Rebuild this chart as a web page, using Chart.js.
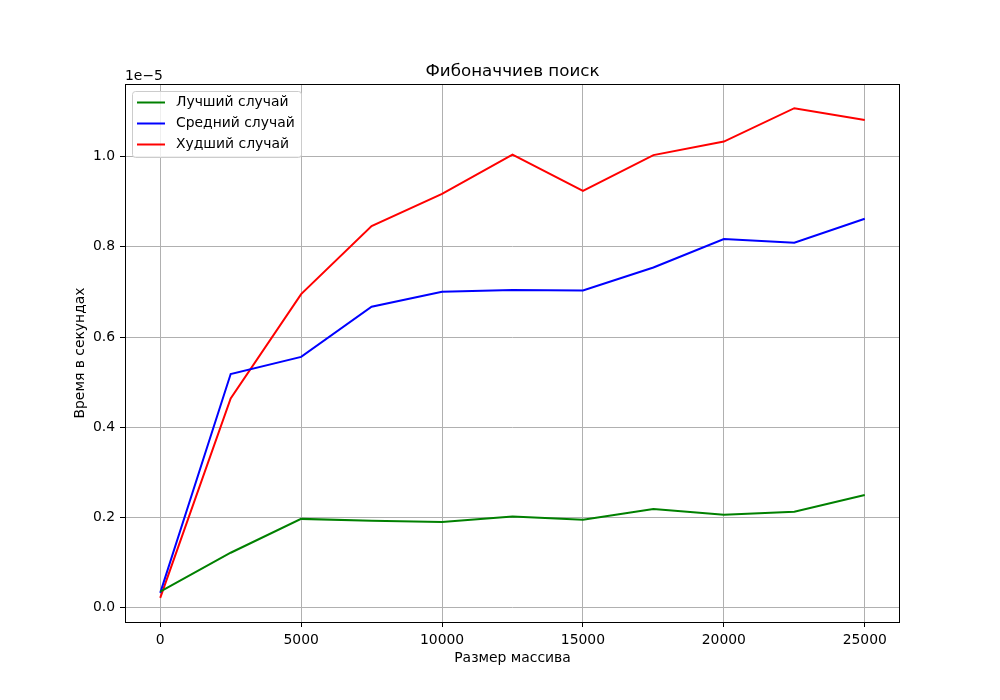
<!DOCTYPE html>
<html><head><meta charset="utf-8">
<script src="https://cdn.jsdelivr.net/npm/chart.js@4.4.1/dist/chart.umd.min.js"></script>
<style>html,body{margin:0;padding:0;background:#fff}#wrap{width:1000px;height:700px}</style>
</head><body><div id="wrap"><canvas id="c" width="1000" height="700"></canvas></div>
<script>
// Data (time values in units of 1e-5 seconds)
const sizes = [0, 2500, 5000, 7500, 10000, 12500, 15000, 17500, 20000, 22500, 25000];
const bestCase  = [0.036, 0.122, 0.197, 0.193, 0.190, 0.202, 0.195, 0.219, 0.206, 0.213, 0.250];
const avgCase   = [0.033, 0.518, 0.556, 0.667, 0.700, 0.704, 0.703, 0.754, 0.817, 0.809, 0.862];
const worstCase = [0.022, 0.464, 0.695, 0.846, 0.917, 1.004, 0.924, 1.003, 1.033, 1.107, 1.081];
const seriesNames = ['Лучший случай', 'Средний случай', 'Худший случай'];
const seriesColors = ['#008000', '#0000ff', '#ff0000'];
const xTicks = [0, 5000, 10000, 15000, 20000, 25000];
const yTicks = [0.0, 0.2, 0.4, 0.6, 0.8, 1.0];
const yExponentLabel = '1e\u22125';
const titleText = 'Фибоначчиев поиск';
const xLabel = 'Размер массива';
const yLabel = 'Время в секундах';

const FONT = '"DejaVu Sans", sans-serif';
const toPts = arr => sizes.map((s, i) => ({x: s, y: arr[i]}));
const allSeries = [bestCase, avgCase, worstCase];

const decor = {
  id: 'decor',
  afterDatasetsDraw(chart) {
    const {ctx, chartArea: a} = chart;
    ctx.save();
    ctx.strokeStyle = '#000'; ctx.lineWidth = 1;
    ctx.strokeRect(Math.round(a.left) + 0.5, Math.round(a.top) + 0.5, Math.round(a.right - a.left) - 1, Math.round(a.bottom - a.top));
    ctx.fillStyle = '#000';
    ctx.font = '16.7px ' + FONT;
    ctx.textAlign = 'center'; ctx.textBaseline = 'alphabetic';
    ctx.fillText(titleText, (a.left + a.right) / 2, a.top - 8);
    ctx.font = '13.9px ' + FONT;
    ctx.textAlign = 'left';
    ctx.fillText(yExponentLabel, a.left, a.top - 4);
    ctx.textAlign = 'center'; ctx.textBaseline = 'middle';
    ctx.fillText(xLabel, (a.left + a.right) / 2, 658);
    ctx.save();
    ctx.translate(80, (a.top + a.bottom) / 2);
    ctx.rotate(-Math.PI / 2);
    ctx.fillText(yLabel, 0, 0);
    ctx.restore();
    const lx = 132.5, ly = 91.5, lw = 169, lh = 66, r = 3;
    ctx.beginPath();
    ctx.moveTo(lx + r, ly); ctx.lineTo(lx + lw - r, ly); ctx.arcTo(lx + lw, ly, lx + lw, ly + r, r);
    ctx.lineTo(lx + lw, ly + lh - r); ctx.arcTo(lx + lw, ly + lh, lx + lw - r, ly + lh, r);
    ctx.lineTo(lx + r, ly + lh); ctx.arcTo(lx, ly + lh, lx, ly + lh - r, r);
    ctx.lineTo(lx, ly + r); ctx.arcTo(lx, ly, lx + r, ly, r); ctx.closePath();
    ctx.fillStyle = 'rgba(255,255,255,0.8)'; ctx.fill();
    ctx.strokeStyle = '#cccccc'; ctx.lineWidth = 1; ctx.stroke();
    const rows = [102.5, 123.5, 144.5];
    seriesNames.forEach((n, i) => {
      ctx.strokeStyle = seriesColors[i]; ctx.lineWidth = 2;
      ctx.beginPath(); ctx.moveTo(137, rows[i]); ctx.lineTo(165, rows[i]); ctx.stroke();
      ctx.fillStyle = '#000'; ctx.font = '13.9px ' + FONT;
      ctx.textAlign = 'left'; ctx.textBaseline = 'middle';
      ctx.fillText(n, 176, rows[i]);
    });
    ctx.restore();
  }
};

new Chart(document.getElementById('c'), {
  type: 'line',
  data: {
    datasets: allSeries.map((s, i) => ({
      label: seriesNames[i],
      data: toPts(s),
      borderColor: seriesColors[i],
      backgroundColor: seriesColors[i],
      borderWidth: 2,
      pointRadius: 0,
      tension: 0,
      fill: false
    }))
  },
  options: {
    responsive: false,
    devicePixelRatio: 1,
    animation: false,
    layout: {padding: {left: 0, right: 100, top: 84, bottom: 0}},
    plugins: {legend: {display: false}, title: {display: false}, tooltip: {enabled: false}},
    scales: {
      x: {
        type: 'linear', min: -1250, max: 26250,
        afterFit(s) { s.height = 78; },
        afterBuildTicks(s) { s.ticks = xTicks.map(v => ({value: v})); },
        grid: {color: '#b0b0b0', lineWidth: 1, tickColor: '#000', tickLength: 5, drawTicks: true},
        border: {display: false},
        ticks: {color: '#000', font: {family: FONT, size: 13.9}, padding: 5, maxRotation: 0, autoSkip: false,
                callback: v => String(v)}
      },
      y: {
        type: 'linear', min: -0.0315, max: 1.1606,
        afterFit(s) { s.width = 125; },
        afterBuildTicks(s) { s.ticks = yTicks.map(v => ({value: v})); },
        grid: {color: '#b0b0b0', lineWidth: 1, tickColor: '#000', tickLength: 5, drawTicks: true},
        border: {display: false},
        ticks: {color: '#000', font: {family: FONT, size: 13.9}, padding: 5, autoSkip: false,
                callback: v => v.toFixed(1)}
      }
    }
  },
  plugins: [decor]
});
</script>
</body></html>
